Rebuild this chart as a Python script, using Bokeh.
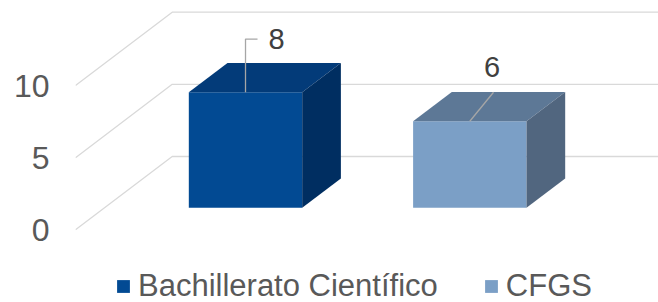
from bokeh.plotting import figure
from bokeh.models import Range1d, LinearAxis, FixedTicker, Legend, LegendItem, ColumnDataSource
from bokeh.core.properties import value
from bokeh.embed import file_html
from bokeh.resources import INLINE

# ---- data ----
categories = ["Bachillerato Científico", "CFGS"]
values = [8, 6]
front_colors = ["#024A93", "#7B9FC6"]
top_colors = ["#033B79", "#5D7896"]
side_colors = ["#002E61", "#51667F"]
y_ticks = [0, 5, 10]

# ---- geometry (data units) ----
PXX = 1 / 224.3          # data x per pixel
PXY = 1 / 14.43          # data y per pixel
DX = 96.7 * PXX          # depth vector (full depth)
DY = 73.3 * PXY
Z0, Z1 = 0.3, 0.7        # bar depth span
HW = 56.7 * PXX          # half bar width
X_LEFT = -28.85 * PXX    # side wall position

FONT = "Liberation Sans"
TXT = "#595959"

p = figure(width=658, height=302, output_backend="svg", toolbar_location=None,
           x_axis_type=None, y_axis_type=None,
           x_range=Range1d(X_LEFT, X_LEFT + 583 * PXX),
           y_range=Range1d(-72.7 * PXY, 229.3 * PXY),
           min_border_left=75, min_border_right=0, min_border_top=0, min_border_bottom=0)
p.outline_line_color = None
p.grid.visible = False
p.background_fill_color = "white"

yax = LinearAxis(ticker=FixedTicker(ticks=y_ticks))
yax.axis_line_color = None
yax.major_tick_line_color = None
yax.minor_tick_line_color = None
yax.major_tick_out = 0
yax.major_tick_in = 0
yax.major_label_standoff = 26
yax.major_label_text_font = FONT
yax.major_label_text_font_size = "32px"
yax.major_label_text_color = TXT
p.add_layout(yax, "left")

# gridlines: side wall diagonal + back wall horizontal
gx, gy = [], []
for t in y_ticks:
    gx.append([X_LEFT, X_LEFT + DX, X_LEFT + DX + 3.0])
    gy.append([t, t + DY, t + DY])
p.multi_line(gx, gy, line_color="#D9D9D9", line_width=1.3)

# bars
xc = [i + 0.5 for i in range(len(values))]
fl = [c - HW + Z0 * DX for c in xc]
fr = [c + HW + Z0 * DX for c in xc]
src = ColumnDataSource(dict(left=fl, right=fr, bottom=[Z0 * DY] * len(values),
                            top=[v + Z0 * DY for v in values], color=front_colors))
front = p.quad(left="left", right="right", bottom="bottom", top="top", source=src,
               fill_color="color", line_color=None)

top_xs, top_ys, side_xs, side_ys = [], [], [], []
for c, v in zip(xc, values):
    l, r = c - HW, c + HW
    top_xs.append([l + Z0 * DX, r + Z0 * DX, r + Z1 * DX, l + Z1 * DX])
    top_ys.append([v + Z0 * DY, v + Z0 * DY, v + Z1 * DY, v + Z1 * DY])
    side_xs.append([r + Z0 * DX, r + Z1 * DX, r + Z1 * DX, r + Z0 * DX])
    side_ys.append([Z0 * DY, Z1 * DY, v + Z1 * DY, v + Z0 * DY])
p.patches(top_xs, top_ys, fill_color=top_colors, line_color=None)
p.patches(side_xs, side_ys, fill_color=side_colors, line_color=None)

# data labels with leader lines (pixel offsets from front-top-edge centre)
leaders = [[(0, 0), (0, -53.3), (12, -53.3)], [(0, 0), (23.7, -29)]]
label_off = [(31, -53.5), (22.2, -54.5)]
lx, ly, tx, ty = [], [], [], []
for c, v, pts, off in zip(xc, values, leaders, label_off):
    ax, ay = c + Z0 * DX, v + Z0 * DY
    lx.append([ax + dx * PXX for dx, dy in pts])
    ly.append([ay - dy * PXY for dx, dy in pts])
    tx.append(ax + off[0] * PXX)
    ty.append(ay - off[1] * PXY)
p.multi_line(lx, ly, line_color="#A6A6A6", line_width=1.3)
p.text(tx, ty, text=[str(v) for v in values], text_align="center", text_baseline="middle",
       text_font=value(FONT), text_font_size="29px", text_color="#404040")

legend = Legend(items=[LegendItem(label=categories[i], renderers=[front], index=i)
                       for i in range(len(categories))],
                location=(40, -2), orientation="horizontal")
legend.glyph_width = 16
legend.glyph_height = 16
legend.label_standoff = 7
legend.spacing = 45
legend.padding = 0
legend.margin = 0
legend.border_line_color = None
legend.background_fill_alpha = 0
legend.label_text_font = FONT
legend.label_text_font_size = "31px"
legend.label_text_color = TXT
p.add_layout(legend)

open("out.html", "w").write(file_html(p, INLINE))
